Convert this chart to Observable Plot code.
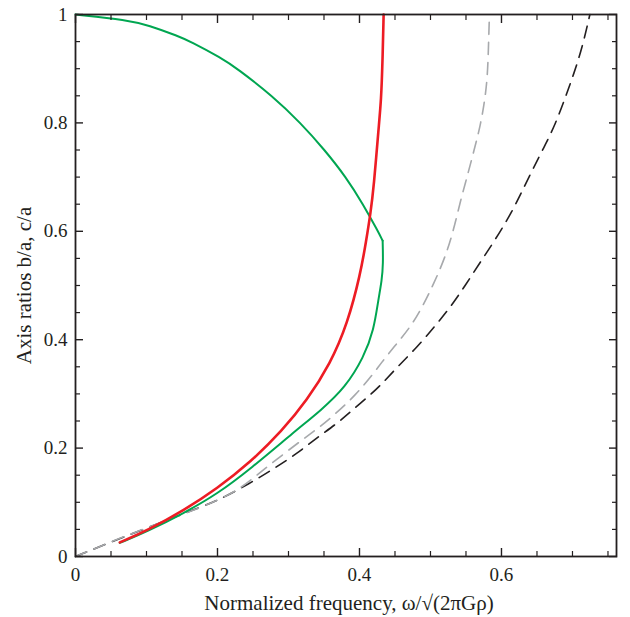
<!DOCTYPE html>
<html><head><meta charset="utf-8">
<script src="https://cdn.jsdelivr.net/npm/d3@7"></script>
<script src="https://cdn.jsdelivr.net/npm/@observablehq/plot@0.6"></script>
<style>body{margin:0;background:#fff;}</style>
</head><body><div id="chart"></div>
<script>
// Maclaurin spheroids, c/a (green, upper branch)
const maclaurinX = [0, 0.073, 0.103, 0.145, 0.162, 0.205, 0.228, 0.277, 0.317, 0.351, 0.381, 0.405, 0.426, 0.4326];
const maclaurinY = [1.0, 0.99, 0.98, 0.96, 0.95, 0.92, 0.90, 0.85, 0.80, 0.75, 0.70, 0.65, 0.60, 0.5827];
// Jacobi ellipsoids, c/a (green, lower branch)
const jacobiCAX = [0.4326, 0.4334, 0.4314, 0.4268, 0.4201, 0.4061, 0.3803, 0.3451, 0.3099, 0.2465, 0.1996, 0.1525, 0.101, 0.0624];
const jacobiCAY = [0.5827, 0.540, 0.509, 0.476, 0.417, 0.368, 0.312, 0.269, 0.232, 0.1618, 0.1153, 0.080, 0.046, 0.025];
// Jacobi ellipsoids, b/a (red)
const jacobiBAX = [0.0624, 0.101, 0.1525, 0.1996, 0.2465, 0.291, 0.326, 0.359, 0.383, 0.4014, 0.4095, 0.4155, 0.4201, 0.427, 0.4305, 0.4325, 0.434];
const jacobiBAY = [0.026, 0.048, 0.085, 0.1255, 0.174, 0.232, 0.288, 0.356, 0.429, 0.5216, 0.583, 0.633, 0.6814, 0.792, 0.841, 0.915, 1.0];
// grey dashed
const greyX = [0, 0.05, 0.1, 0.15, 0.2, 0.232, 0.26, 0.29, 0.32, 0.345, 0.366, 0.394, 0.42, 0.4296, 0.4483, 0.4718, 0.4883, 0.5046, 0.5211, 0.5324, 0.5423, 0.5517, 0.5613, 0.5700, 0.5763, 0.5803, 0.5817, 0.5828, 0.5831];
const greyY = [0, 0.027, 0.053, 0.077, 0.103, 0.125, 0.155, 0.186, 0.216, 0.240, 0.263, 0.297, 0.338, 0.3555, 0.3862, 0.4231, 0.4600, 0.5031, 0.5535, 0.6015, 0.6568, 0.7011, 0.7491, 0.7934, 0.8395, 0.8856, 0.9410, 0.9908, 1.0];
// black dashed
const blackX = [0, 0.05, 0.1, 0.138, 0.176, 0.2, 0.246, 0.279, 0.31, 0.34, 0.369, 0.389, 0.416, 0.432, 0.455, 0.481, 0.505, 0.528, 0.549, 0.57, 0.592, 0.613, 0.628, 0.643, 0.66, 0.676, 0.69, 0.702, 0.714, 0.7245];
const blackY = [0, 0.027, 0.052, 0.072, 0.091, 0.103, 0.135, 0.162, 0.188, 0.219, 0.246, 0.269, 0.299, 0.319, 0.352, 0.386, 0.423, 0.46, 0.5, 0.543, 0.586, 0.632, 0.671, 0.712, 0.755, 0.798, 0.847, 0.891, 0.94, 1.0];

const xMajor = [0, 0.2, 0.4, 0.6];
const xMajorLabels = ["0", "0.2", "0.4", "0.6"];
const xMinor = [0.05, 0.1, 0.15, 0.25, 0.3, 0.35, 0.45, 0.5, 0.55, 0.65, 0.7, 0.75];
const yMajor = [0, 0.2, 0.4, 0.6, 0.8, 1];
const yMajorLabels = ["0", "0.2", "0.4", "0.6", "0.8", "1"];
const yMinor = [0.05, 0.1, 0.15, 0.25, 0.3, 0.35, 0.45, 0.5, 0.55, 0.65, 0.7, 0.75, 0.85, 0.9, 0.95];
const xTitle = "Normalized frequency, ω/√(2πGρ)";
const yTitle = "Axis ratios b/a, c/a";

const pts = (xs, ys) => xs.map((x, i) => ({x, y: ys[i]}));
const ink = "#231f20";
const xLab = new Map(xMajor.map((v, i) => [v, xMajorLabels[i]]));
const yLab = new Map(yMajor.map((v, i) => [v, yMajorLabels[i]]));

const tickAxes = [];
for (const anchor of ["bottom", "top"]) {
  tickAxes.push(Plot.axisX(xMajor, {anchor, tickSize: -8, fill: "none", stroke: ink, strokeWidth: 1.4, label: null}));
  tickAxes.push(Plot.axisX(xMinor, {anchor, tickSize: -5, fill: "none", stroke: ink, strokeWidth: 1.2, label: null}));
}
for (const anchor of ["left", "right"]) {
  tickAxes.push(Plot.axisY(yMajor, {anchor, tickSize: -8, fill: "none", stroke: ink, strokeWidth: 1.4, label: null}));
  tickAxes.push(Plot.axisY(yMinor, {anchor, tickSize: -5, fill: "none", stroke: ink, strokeWidth: 1.2, label: null}));
}

const chart = Plot.plot({
  width: 630, height: 617,
  marginLeft: 75, marginRight: 14, marginTop: 14, marginBottom: 61,
  x: {domain: [0, 0.762]},
  y: {domain: [0, 1]},
  style: {fontFamily: "Liberation Serif", fontSize: "19px", color: ink, background: "#fff"},
  marks: [
    Plot.line(pts(blackX, blackY), {x: "x", y: "y", stroke: ink, strokeWidth: 1.6, strokeDasharray: "12,8", curve: "basis"}),
    Plot.line(pts(greyX, greyY), {x: "x", y: "y", stroke: "#a7a9ac", strokeWidth: 1.6, strokeDasharray: "12,8", curve: "basis"}),
    Plot.line(pts(maclaurinX, maclaurinY), {x: "x", y: "y", stroke: "#00a651", strokeWidth: 2, curve: "basis"}),
    Plot.line(pts(jacobiCAX, jacobiCAY), {x: "x", y: "y", stroke: "#00a651", strokeWidth: 2, curve: "basis"}),
    Plot.line(pts(jacobiBAX, jacobiBAY), {x: "x", y: "y", stroke: "#ed1c24", strokeWidth: 2.6, curve: "basis"}),
    ...tickAxes,
    Plot.axisX(xMajor, {anchor: "bottom", tickSize: 0, tickPadding: 11, tickFormat: d => xLab.get(d), fill: ink, fontSize: 19, label: null}),
    Plot.axisY(yMajor, {anchor: "left", tickSize: 0, tickPadding: 8, tickFormat: d => yLab.get(d), fill: ink, fontSize: 19, label: null}),
    Plot.frame({stroke: ink, strokeWidth: 1.8}),
    Plot.text([xTitle], {text: d => d, frameAnchor: "bottom", dy: 47, dx: 3, lineAnchor: "middle", textAnchor: "middle", fill: ink, fontSize: 21}),
    Plot.text([yTitle], {text: d => d, frameAnchor: "left", dx: -51, rotate: -90, textAnchor: "middle", lineAnchor: "middle", fill: ink, fontSize: 21})
  ]
});
document.getElementById("chart").appendChild(chart);
</script>
</body></html>
